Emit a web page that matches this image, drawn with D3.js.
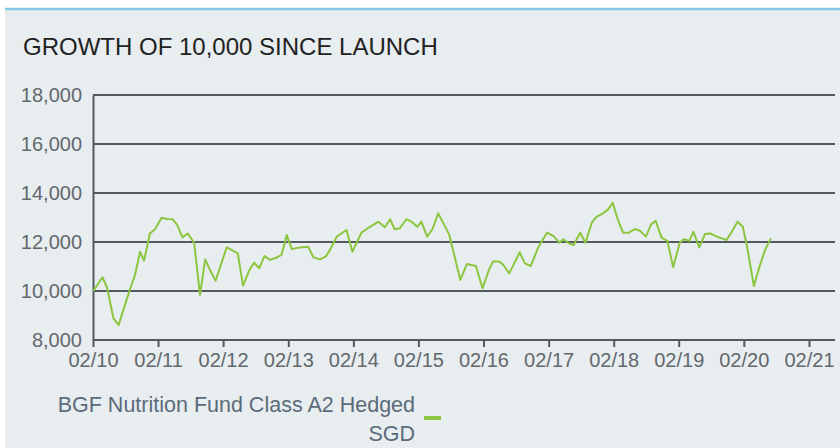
<!DOCTYPE html>
<html>
  <head>
    <meta charset="utf-8">
    <title>Growth of 10,000</title>
    <script src="https://d3js.org/d3.v7.min.js"></script>
    <style>
      body { margin: 0; background: #fff; }
      text { font-family: "Liberation Sans", Arial, sans-serif; }
    </style>
  </head>
  <body>
    <svg width="840" height="448"></svg>

    <script>
      // fund value (decimal year -> value)
      const years = [
        2010.09, 2010.23, 2010.30, 2010.40, 2010.48, 2010.55, 2010.65, 2010.73, 2010.81, 2010.87,
        2010.96, 2011.04, 2011.14, 2011.22, 2011.31, 2011.38, 2011.46, 2011.54, 2011.64, 2011.73,
        2011.81, 2011.88, 2011.97, 2012.14, 2012.22, 2012.31, 2012.39, 2012.49, 2012.56, 2012.64,
        2012.72, 2012.80, 2012.90, 2012.98, 2013.06, 2013.14, 2013.26, 2013.39, 2013.47, 2013.57,
        2013.66, 2013.73, 2013.83, 2013.98, 2014.07, 2014.21, 2014.33, 2014.47, 2014.57, 2014.65,
        2014.72, 2014.80, 2014.90, 2014.98, 2015.07, 2015.13, 2015.22, 2015.30, 2015.39, 2015.47,
        2015.56, 2015.73, 2015.83, 2015.97, 2016.07, 2016.17, 2016.23, 2016.33, 2016.39, 2016.48,
        2016.57, 2016.64, 2016.72, 2016.81, 2016.93, 2017.06, 2017.16, 2017.25, 2017.31, 2017.40,
        2017.47, 2017.57, 2017.65, 2017.75, 2017.82, 2017.92, 2018.00, 2018.07, 2018.15, 2018.23,
        2018.32, 2018.41, 2018.49, 2018.58, 2018.66, 2018.73, 2018.82, 2018.91, 2019.00, 2019.10,
        2019.16, 2019.25, 2019.31, 2019.40, 2019.49, 2019.57, 2019.67, 2019.82, 2019.90, 2019.99,
        2020.07, 2020.13, 2020.24, 2020.31, 2020.41, 2020.50
      ];
      const values = [
        10000, 10560, 10150, 8880, 8610, 9220, 10040, 10650, 11600, 11240,
        12350, 12530, 12990, 12940, 12930, 12690, 12190, 12350, 11970, 9840,
        11290, 10880, 10420, 11780, 11670, 11540, 10220, 10860, 11160, 10930,
        11430, 11270, 11360, 11470, 12290, 11710, 11780, 11810, 11380, 11290,
        11400, 11700, 12220, 12490, 11600, 12380, 12600, 12830, 12600, 12930,
        12520, 12560, 12930, 12830, 12620, 12830, 12220, 12520, 13170, 12760,
        12290, 10450, 11100, 11020, 10110, 10860, 11200, 11200, 11060, 10720,
        11200, 11580, 11130, 11020, 11810, 12380, 12240, 11970, 12110, 11940,
        11880, 12380, 11970, 12800, 13030, 13170, 13330, 13600, 12900, 12380,
        12380, 12530, 12460, 12220, 12720, 12870, 12180, 12050, 10970, 11970,
        12110, 12050, 12420, 11780, 12330, 12350, 12220, 12080, 12420, 12830,
        12620, 11880, 10200, 10860, 11670, 12150
      ];

      const yTicks = [8000, 10000, 12000, 14000, 16000, 18000];
      const xTickLabels = ["02/10", "02/11", "02/12", "02/13", "02/14", "02/15",
                           "02/16", "02/17", "02/18", "02/19", "02/20", "02/21"];
      const seriesName = ["BGF Nutrition Fund Class A2 Hedged", "SGD"];

      // decimal year -> Date
      function toDate(y) {
        const yr = Math.floor(y);
        const a = Date.UTC(yr, 0, 1), b = Date.UTC(yr + 1, 0, 1);
        return new Date(a + (y - yr) * (b - a));
      }
      const data = years.map((y, i) => ({ date: toDate(y), value: values[i] }));
      const xTicks = xTickLabels.map(s => new Date(Date.UTC(2000 + +s.slice(3), +s.slice(0, 2) - 1, 1)));

      const svg = d3.select("svg");

      // panel
      svg.append("rect")
        .attr("x", 5).attr("y", 9).attr("width", 835).attr("height", 439)
        .attr("fill", "#e8edf0");
      svg.append("line")
        .attr("x1", 5).attr("x2", 840).attr("y1", 9).attr("y2", 9)
        .attr("stroke", "#86c8ea").attr("stroke-width", 2.5);

      svg.append("text")
        .attr("x", 23).attr("y", 55)
        .attr("font-size", 24).attr("fill", "#222")
        .text("GROWTH OF 10,000 SINCE LAUNCH");

      const x = d3.scaleUtc()
        .domain([xTicks[0], xTicks[xTicks.length - 1]])
        .range([93, 809]);
      const y = d3.scaleLinear()
        .domain([8000, 18000])
        .range([340, 95]);

      // horizontal grid lines
      svg.append("g")
        .selectAll("line")
        .data(yTicks)
        .enter()
        .append("line")
          .attr("x1", 93).attr("x2", 835)
          .attr("y1", d => y(d)).attr("y2", d => y(d))
          .attr("stroke", "#525a5f")
          .attr("stroke-width", 2);

      // y axis
      const yAxis = svg.append("g")
        .attr("transform", "translate(93,0)")
        .call(d3.axisLeft(y).tickValues(yTicks).tickFormat(d3.format(",")).tickSize(0).tickPadding(11));
      yAxis.select(".domain").attr("stroke", "#525a5f").attr("stroke-width", 2);
      yAxis.selectAll("text").attr("font-size", 20).attr("fill", "#63686d")
        .attr("font-family", "Liberation Sans, Arial, sans-serif");

      // x axis
      const xAxis = svg.append("g")
        .attr("transform", "translate(0,340)")
        .call(d3.axisBottom(x).tickValues(xTicks).tickFormat((d, i) => xTickLabels[i]).tickSize(7).tickPadding(6));
      xAxis.select(".domain").remove();
      xAxis.selectAll("line").attr("stroke", "#525a5f").attr("stroke-width", 2);
      xAxis.selectAll("text").attr("font-size", 20).attr("fill", "#63686d")
        .attr("font-family", "Liberation Sans, Arial, sans-serif");

      // series
      const line = d3.line()
        .x(d => x(d.date))
        .y(d => y(d.value));
      svg.append("path")
        .datum(data)
        .attr("d", line)
        .attr("fill", "none")
        .attr("stroke", "#8cc63f")
        .attr("stroke-width", 2)
        .attr("stroke-linejoin", "round");

      // legend
      const legend = svg.append("g");
      legend.append("text")
        .attr("x", 415).attr("y", 412)
        .attr("text-anchor", "end")
        .attr("font-size", 21.5).attr("fill", "#5b6b7a")
        .text(seriesName[0]);
      legend.append("text")
        .attr("x", 415).attr("y", 441)
        .attr("text-anchor", "end")
        .attr("font-size", 21.5).attr("fill", "#5b6b7a")
        .text(seriesName[1]);
      legend.append("line")
        .attr("x1", 424).attr("x2", 441).attr("y1", 418).attr("y2", 418)
        .attr("stroke", "#8cc63f").attr("stroke-width", 4);
    </script>
  </body>
</html>
